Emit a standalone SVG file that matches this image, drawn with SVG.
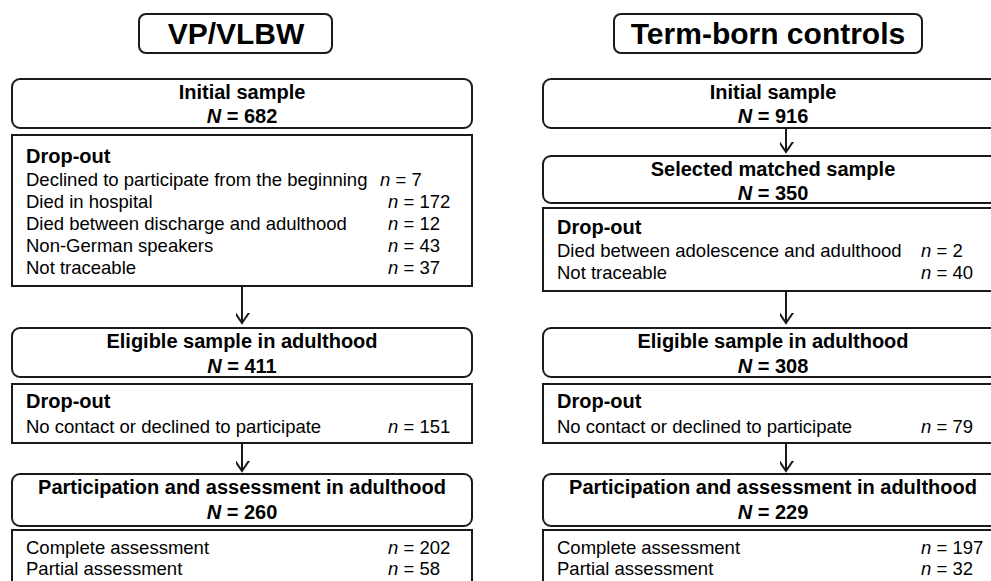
<svg xmlns="http://www.w3.org/2000/svg" width="991" height="581" viewBox="0 0 991 581">
<style>
text{font-family:"Liberation Sans",Arial,sans-serif;fill:#000}
.t{font-size:30px;font-weight:bold;text-anchor:middle}
.h{font-size:20px;font-weight:bold;text-anchor:middle}
.hl{font-size:20px;font-weight:bold}
.r{font-size:18.5px}
.i{font-style:italic}
.box{fill:#fff;stroke:#1a1a1a;stroke-width:2}
.con line{stroke:#1a1a1a;stroke-width:2}
</style>
<defs>
<marker id="arr" markerUnits="userSpaceOnUse" markerWidth="20" markerHeight="20" viewBox="-10 -14 20 20" refX="0" refY="0" orient="auto-start-reverse">
<polyline points="-11,-7.5 0,0 -11,7.5" fill="none" stroke="#1a1a1a" stroke-width="2" transform="rotate(0)"/>
</marker>
</defs>
<rect width="991" height="581" fill="#fff"/>

<g id="title-vp">
<rect class="box" x="139" y="14" width="193" height="39" rx="7"/>
<text class="t" x="236" y="44">VP/VLBW</text>
</g>
<g id="title-term">
<rect class="box" x="614" y="14" width="308" height="39" rx="7"/>
<text class="t" x="768" y="44">Term-born controls</text>
</g>

<g class="con" id="connectors">
<line x1="242" y1="286" x2="242" y2="323" marker-end="url(#arr)"/>
<line x1="242" y1="443" x2="242" y2="471" marker-end="url(#arr)"/>
<line x1="786" y1="128" x2="786" y2="152" marker-end="url(#arr)"/>
<line x1="786" y1="291" x2="786" y2="323" marker-end="url(#arr)"/>
<line x1="786" y1="443" x2="786" y2="471" marker-end="url(#arr)"/>
</g>

<g id="vp-initial">
<rect class="box" x="12" y="79" width="460" height="49" rx="8"/>
<text class="h" x="242" y="99">Initial sample</text>
<text class="h" x="242" y="123"><tspan class="i">N</tspan> = 682</text>
</g>
<g id="vp-dropout1">
<rect class="box" x="12" y="135" width="460" height="151"/>
<text class="hl" x="26" y="163">Drop-out</text>
<text class="r" x="26" y="185.5">Declined to participate from the beginning</text>
<text class="r" x="380" y="185.5"><tspan class="i">n</tspan> = 7</text>
<text class="r" x="26" y="207.7">Died in hospital</text>
<text class="r" x="388" y="207.7"><tspan class="i">n</tspan> = 172</text>
<text class="r" x="26" y="229.9">Died between discharge and adulthood</text>
<text class="r" x="388" y="229.9"><tspan class="i">n</tspan> = 12</text>
<text class="r" x="26" y="252.1">Non-German speakers</text>
<text class="r" x="388" y="252.1"><tspan class="i">n</tspan> = 43</text>
<text class="r" x="26" y="274.3">Not traceable</text>
<text class="r" x="388" y="274.3"><tspan class="i">n</tspan> = 37</text>
</g>
<g id="vp-eligible">
<rect class="box" x="12" y="328" width="460" height="49" rx="8"/>
<text class="h" x="242" y="347.7">Eligible sample in adulthood</text>
<text class="h" x="242" y="372.5"><tspan class="i">N</tspan> = 411</text>
</g>
<g id="vp-dropout2">
<rect class="box" x="12" y="384" width="460" height="59"/>
<text class="hl" x="26" y="408.3">Drop-out</text>
<text class="r" x="26" y="433.3">No contact or declined to participate</text>
<text class="r" x="388" y="433.3"><tspan class="i">n</tspan> = 151</text>
</g>
<g id="vp-participation">
<rect class="box" x="12" y="474" width="460" height="52" rx="8"/>
<text class="h" x="242" y="494.3">Participation and assessment in adulthood</text>
<text class="h" x="242" y="519"><tspan class="i">N</tspan> = 260</text>
</g>
<g id="vp-assessment">
<rect class="box" x="12" y="530" width="460" height="70"/>
<text class="r" x="26" y="554">Complete assessment</text>
<text class="r" x="388" y="554"><tspan class="i">n</tspan> = 202</text>
<text class="r" x="26" y="575">Partial assessment</text>
<text class="r" x="388" y="575"><tspan class="i">n</tspan> = 58</text>
</g>

<g id="tc-initial">
<rect class="box" x="543" y="79" width="470" height="49" rx="8"/>
<text class="h" x="773" y="99">Initial sample</text>
<text class="h" x="773" y="123"><tspan class="i">N</tspan> = 916</text>
</g>
<g id="tc-selected">
<rect class="box" x="543" y="156" width="470" height="47" rx="8"/>
<text class="h" x="773" y="175.7">Selected matched sample</text>
<text class="h" x="773" y="200"><tspan class="i">N</tspan> = 350</text>
</g>
<g id="tc-dropout1">
<rect class="box" x="543" y="208" width="470" height="83"/>
<text class="hl" x="557" y="234.3">Drop-out</text>
<text class="r" x="557" y="256.7">Died between adolescence and adulthood</text>
<text class="r" x="921" y="256.7"><tspan class="i">n</tspan> = 2</text>
<text class="r" x="557" y="279.3">Not traceable</text>
<text class="r" x="921" y="279.3"><tspan class="i">n</tspan> = 40</text>
</g>
<g id="tc-eligible">
<rect class="box" x="543" y="328" width="470" height="49" rx="8"/>
<text class="h" x="773" y="347.7">Eligible sample in adulthood</text>
<text class="h" x="773" y="372.5"><tspan class="i">N</tspan> = 308</text>
</g>
<g id="tc-dropout2">
<rect class="box" x="543" y="384" width="470" height="59"/>
<text class="hl" x="557" y="408.3">Drop-out</text>
<text class="r" x="557" y="433.3">No contact or declined to participate</text>
<text class="r" x="921" y="433.3"><tspan class="i">n</tspan> = 79</text>
</g>
<g id="tc-participation">
<rect class="box" x="543" y="474" width="470" height="52" rx="8"/>
<text class="h" x="773" y="494.3">Participation and assessment in adulthood</text>
<text class="h" x="773" y="519"><tspan class="i">N</tspan> = 229</text>
</g>
<g id="tc-assessment">
<rect class="box" x="543" y="530" width="470" height="70"/>
<text class="r" x="557" y="554">Complete assessment</text>
<text class="r" x="921" y="554"><tspan class="i">n</tspan> = 197</text>
<text class="r" x="557" y="575">Partial assessment</text>
<text class="r" x="921" y="575"><tspan class="i">n</tspan> = 32</text>
</g>
</svg>
